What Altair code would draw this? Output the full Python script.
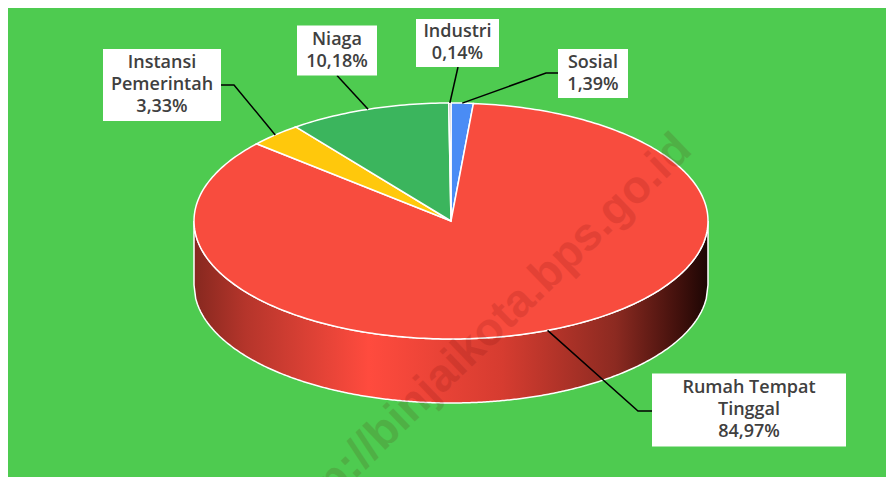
import altair as alt
import numpy as np
import pandas as pd

# ---------------- data ----------------
categories = ["Sosial", "Rumah Tempat Tinggal", "Instansi Pemerintah", "Niaga", "Industri"]
shares = [1.39, 84.97, 3.33, 10.18, 0.14]
share_labels = ["1,39%", "84,97%", "3,33%", "10,18%", "0,14%"]
label_names = ["Sosial", "Rumah Tempat\nTinggal", "Instansi\nPemerintah", "Niaga", "Industri"]
colors = ["#4a8cf5", "#f84c3e", "#ffc80c", "#3bb55d", "#9e9e9e"]
watermark = "http://binjaikota.bps.go.id"

# ---------------- layout (pixel frame of the page) ----------------
CX, CY, RX, RY, DEPTH = 451, 221, 257, 118, 64
LINE_H = 22
box_center = {"Sosial": (593, 73.5), "Rumah Tempat Tinggal": (749, 410),
              "Instansi Pemerintah": (162, 85), "Niaga": (337, 50.5), "Industri": (457.5, 43)}
box_size = {"Sosial": (70, 49), "Rumah Tempat Tinggal": (194, 73),
            "Instansi Pemerintah": (118, 72), "Niaga": (80, 50), "Industri": (83, 48)}
leader_start = {"Sosial": [(558, 73), (546, 73)], "Rumah Tempat Tinggal": [(652, 411), (638, 411)],
                "Instansi Pemerintah": [(221, 85), (234, 85)], "Niaga": [(337, 75.5)],
                "Industri": [(458, 67)]}

BG = "#4ecb50"

def ell(theta, dy=0.0):
    return CX + RX * np.sin(theta), CY - RY * np.cos(theta) + dy

total = sum(shares)
cum = np.concatenate([[0], np.cumsum(shares)]) / total * 2 * np.pi

# top-face slice polygons
rows = []
for k, name in enumerate(categories):
    a0, a1 = cum[k], cum[k + 1]
    n = max(2, int(np.degrees(a1 - a0)) + 2)
    rows.append({"name": name, "i": 0, "x": CX, "y": CY})
    for j, a in enumerate(np.linspace(a0, a1, n)):
        x, y = ell(a)
        rows.append({"name": name, "i": j + 1, "x": x, "y": y})
slices_df = pd.DataFrame(rows)

# side wall (front half)
t = np.linspace(-1, 1, 301)
side_df = pd.DataFrame({"x": CX + RX * t,
                        "y": CY + RY * np.sqrt(np.clip(1 - t ** 2, 0, 1))})
side_df["y2"] = side_df["y"] + DEPTH

# leaders, boxes, texts
lrows, brows, trows = [], [], []
for k, name in enumerate(categories):
    mid = (cum[k] + cum[k + 1]) / 2
    pts = leader_start[name] + [ell(mid)]
    for j, (x, y) in enumerate(pts):
        lrows.append({"name": name, "i": j, "x": x, "y": y})
    (bx, by), (bw, bh) = box_center[name], box_size[name]
    brows.append({"name": name, "x": bx - bw / 2, "x2": bx + bw / 2, "y": by - bh / 2, "y2": by + bh / 2})
    txt = label_names[k] + "\n" + share_labels[k]
    nlines = txt.count("\n") + 1
    trows.append({"name": name, "x": bx, "y": by - (nlines - 1) * LINE_H / 2, "t": txt})
lead_df, box_df, text_df = pd.DataFrame(lrows), pd.DataFrame(brows), pd.DataFrame(trows)

xs = alt.Scale(domain=[8, 886], nice=False, zero=False)
ys = alt.Scale(domain=[8, 477], nice=False, zero=False, reverse=True)
X = lambda f="x": alt.X(f"{f}:Q", scale=xs, axis=None)
Y = lambda f="y": alt.Y(f"{f}:Q", scale=ys, axis=None)

grad = alt.Gradient(
    gradient="linear", x1=0, x2=1, y1=0, y2=0,
    stops=[alt.GradientStop(offset=0.0, color="#86281f"),
           alt.GradientStop(offset=0.1, color="#b5352b"),
           alt.GradientStop(offset=0.34, color="#ff4b3e"),
           alt.GradientStop(offset=0.6, color="#d63c30"),
           alt.GradientStop(offset=0.82, color="#8c2a21"),
           alt.GradientStop(offset=0.95, color="#3d0f0b"),
           alt.GradientStop(offset=1.0, color="#1c0604")])

side = alt.Chart(side_df).mark_area(color=grad, stroke="white", strokeWidth=1.5).encode(
    x=X(), y=Y(), y2=alt.Y2("y2:Q"))

top = alt.Chart(slices_df).mark_line(stroke="white", strokeWidth=1.5, interpolate="linear-closed").encode(
    x=X(), y=Y(),
    fill=alt.Fill("name:N", scale=alt.Scale(domain=categories, range=colors), legend=None),
    detail="name:N", order=alt.Order("i:Q"))

leaders = alt.Chart(lead_df).mark_line(color="black", strokeWidth=1.5).encode(
    x=X(), y=Y(), detail="name:N", order=alt.Order("i:Q"))

boxes = alt.Chart(box_df).mark_rect(color="white").encode(
    x=X(), x2=alt.X2("x2:Q"), y=Y(), y2=alt.Y2("y2:Q"))

texts = alt.Chart(text_df).mark_text(
    font="Open Sans", fontSize=18, fontWeight=600, color="#404040",
    lineBreak="\n", lineHeight=LINE_H, align="center", baseline="middle").encode(
    x=X(), y=Y(), text="t:N")

wm = alt.Chart(pd.DataFrame({"x": [684], "y": [142], "t": [watermark]})).mark_text(
    font="Liberation Sans", fontSize=46, fontWeight="bold", color="#5a0000", opacity=0.13,
    angle=316, align="right", baseline="middle").encode(x=X(), y=Y(), text="t:N")

chart = alt.layer(side, top, leaders, boxes, texts, wm).properties(
    width=878, height=469, padding=0, background=BG,
    autosize=alt.AutoSizeParams(type="none")
).configure_view(stroke=None)

chart.save("out.html", embed_options={"renderer": "svg", "actions": False})
